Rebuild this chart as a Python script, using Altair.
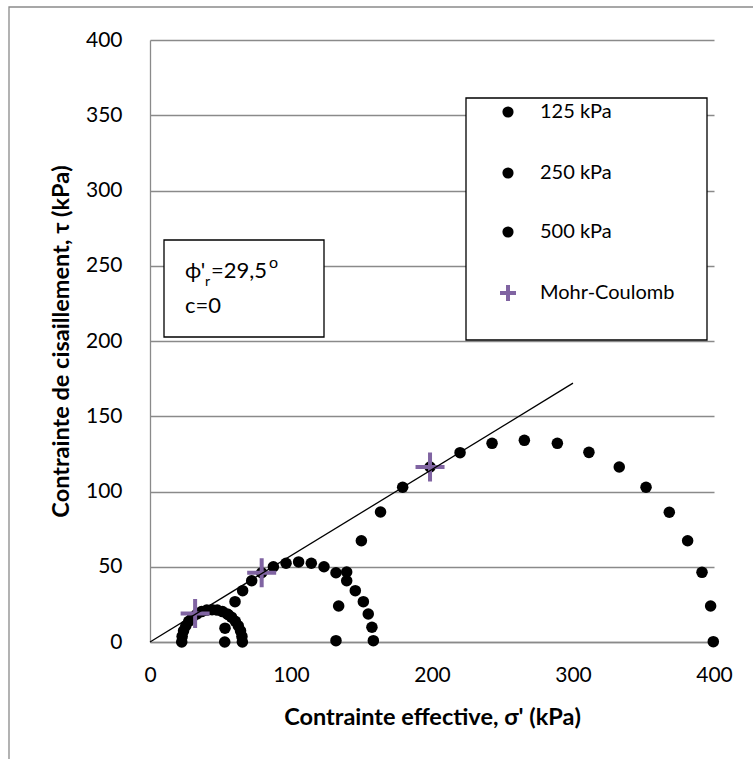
import altair as alt
import pandas as pd

# Mohr circles at three confining pressures: normal stress σ' and shear stress τ (kPa)
sig_125 = [22.5, 22.8, 23.8, 25.4, 27.5, 30.2, 33.3, 36.6, 40.3, 44.0,
           47.7, 51.4, 54.8, 57.8, 60.5, 62.6, 64.2, 65.2, 65.5]
tau_125 = [0.0, 3.7, 7.4, 10.8, 13.8, 16.5, 18.6, 20.2, 21.2, 21.5,
           21.2, 20.2, 18.6, 16.5, 13.8, 10.8, 7.4, 3.7, 0.0]

sig_250 = [53.0, 53.2, 55.6, 60.3, 65.7, 72.1, 79.2, 87.5, 96.5, 105.4,
           114.4, 123.4, 131.9, 139.5, 145.6, 151.3, 154.8, 157.4, 158.4]
tau_250 = [0.0, 9.2, 18.1, 26.8, 34.1, 40.7, 46.0, 50.0, 52.3, 53.2,
           52.3, 50.0, 46.0, 40.7, 34.1, 26.8, 18.6, 9.8, 0.9]

sig_500 = [131.9, 133.8, 139.5, 149.9, 163.5, 179.2, 198.6, 219.9, 242.6, 265.5,
           288.9, 311.3, 332.8, 351.8, 368.3, 381.3, 391.5, 397.6, 399.5]
tau_500 = [0.9, 23.9, 46.5, 67.3, 86.4, 102.8, 116.3, 125.8, 132.0, 134.0,
           132.0, 126.0, 116.3, 102.8, 86.2, 67.3, 46.3, 23.9, 0.2]

# Tangent points on the failure envelope
sig_mc = [32.0, 79.2, 198.6]
tau_mc = [19.0, 46.0, 116.3]

# Failure envelope through the origin
sig_env = [0, 300]
tau_env = [0, 172]

series_names = ["125 kPa", "250 kPa", "500 kPa", "Mohr-Coulomb"]

x_ticks = [0, 100, 200, 300, 400]
y_ticks = [0, 50, 100, 150, 200, 250, 300, 350, 400]

FONT = "Lato"
GRAY = "#8a8a8a"
PURPLE = "#8064A2"
PLUS = "M-1,0L1,0M0,-1L0,1"

W, H = 564, 602

circles = pd.concat([
    pd.DataFrame({"sigma": sig_125, "tau": tau_125, "serie": series_names[0]}),
    pd.DataFrame({"sigma": sig_250, "tau": tau_250, "serie": series_names[1]}),
    pd.DataFrame({"sigma": sig_500, "tau": tau_500, "serie": series_names[2]}),
], ignore_index=True)
mc = pd.DataFrame({"sigma": sig_mc, "tau": tau_mc})
env = pd.DataFrame({"sigma": sig_env, "tau": tau_env})

x_scale = alt.Scale(domain=[0, 400], nice=False)
y_scale = alt.Scale(domain=[0, 400], nice=False)

x_enc = alt.X(
    "sigma:Q", scale=x_scale,
    axis=alt.Axis(
        values=x_ticks, grid=False, ticks=False, domain=True, domainColor=GRAY,
        domainWidth=1.3, labelFont=FONT, labelFontSize=21, labelColor="black",
        labelPadding=22, labelFlush=False, title="Contrainte effective, σ' (kPa)",
        titleFont=FONT, titleFontSize=23.5, titleFontWeight="bold", titleColor="black",
        titleX=W / 2, titleY=75, titleBaseline="middle", titleAlign="center",
    ),
)
y_enc = alt.Y(
    "tau:Q", scale=y_scale,
    axis=alt.Axis(
        values=y_ticks, grid=True, gridColor=GRAY, gridWidth=1.3, ticks=False,
        domain=True, domainColor=GRAY, domainWidth=1.3, labelFont=FONT,
        labelFontSize=21, labelColor="black", labelPadding=28, labelFlush=False,
        title="Contrainte de cisaillement, τ (kPa)", titleFont=FONT,
        titleFontSize=23.5, titleFontWeight="bold", titleColor="black",
        titleX=-89, titleY=H / 2, titleAngle=270, titleBaseline="middle",
        titleAlign="center",
    ),
)

one = pd.DataFrame({"k": [0]})

# Chart-area frame (runs past the right and bottom edges of the page)
frame = alt.Chart(one).mark_rect(fillOpacity=0, stroke=GRAY, strokeWidth=1.3).encode(
    x=alt.value(-141), x2=alt.value(W + 200), y=alt.value(-33), y2=alt.value(H + 200)
)

base = alt.Chart(circles).mark_circle(color="black", size=133, opacity=1).encode(
    x=x_enc, y=y_enc
)

plus = alt.Chart(mc).mark_point(
    shape=PLUS, filled=False, stroke=PURPLE, strokeWidth=4, size=841, opacity=1
).encode(x="sigma:Q", y="tau:Q")

envelope = alt.Chart(env).mark_line(color="black", strokeWidth=1.3).encode(
    x="sigma:Q", y="tau:Q"
)

# Parameter box
param_box = alt.Chart(one).mark_rect(fill="white", stroke="black", strokeWidth=1.3).encode(
    x=alt.value(14), x2=alt.value(174), y=alt.value(200), y2=alt.value(297)
)
txt = dict(font=FONT, color="black", align="left", baseline="alphabetic")
phi = alt.Chart(one).mark_text(text="ϕ'", fontSize=22, **txt).encode(
    x=alt.value(35), y=alt.value(238))
sub_r = alt.Chart(one).mark_text(text="r", fontSize=14, **txt).encode(
    x=alt.value(55), y=alt.value(246))
val = alt.Chart(one).mark_text(text="=29,5", fontSize=22, **txt).encode(
    x=alt.value(61), y=alt.value(238))
deg = alt.Chart(one).mark_text(text="o", fontSize=16, **txt).encode(
    x=alt.value(119), y=alt.value(228))
coh = alt.Chart(one).mark_text(text="c=0", fontSize=22, **txt).encode(
    x=alt.value(35), y=alt.value(273))

# Legend box
leg_box = alt.Chart(one).mark_rect(fill="white", stroke="black", strokeWidth=1.3).encode(
    x=alt.value(316), x2=alt.value(557), y=alt.value(58), y2=alt.value(300)
)
leg_rows = [72, 133, 192, 253]
leg_layers = []
for i, name in enumerate(series_names):
    if name == "Mohr-Coulomb":
        sym = alt.Chart(one).mark_point(
            shape=PLUS, filled=False, stroke=PURPLE, strokeWidth=4, size=256, opacity=1
        ).encode(x=alt.value(358), y=alt.value(leg_rows[i]))
    else:
        sym = alt.Chart(one).mark_circle(color="black", size=125, opacity=1).encode(
            x=alt.value(358), y=alt.value(leg_rows[i]))
    lab = alt.Chart(one).mark_text(
        text=name, fontSize=20, font=FONT, color="black", align="left", baseline="middle"
    ).encode(x=alt.value(390), y=alt.value(leg_rows[i]))
    leg_layers += [sym, lab]

chart = alt.layer(
    frame, base, plus, envelope, param_box, phi, sub_r, val, deg, coh, leg_box, *leg_layers
).properties(
    width=W, height=H,
    autosize=alt.AutoSizeParams(type="none"),
    padding={"left": 150, "top": 40, "right": 39, "bottom": 117},
    background="white",
).configure_view(stroke=None)

chart.save("out.html", embed_options={"renderer": "svg", "actions": False})
